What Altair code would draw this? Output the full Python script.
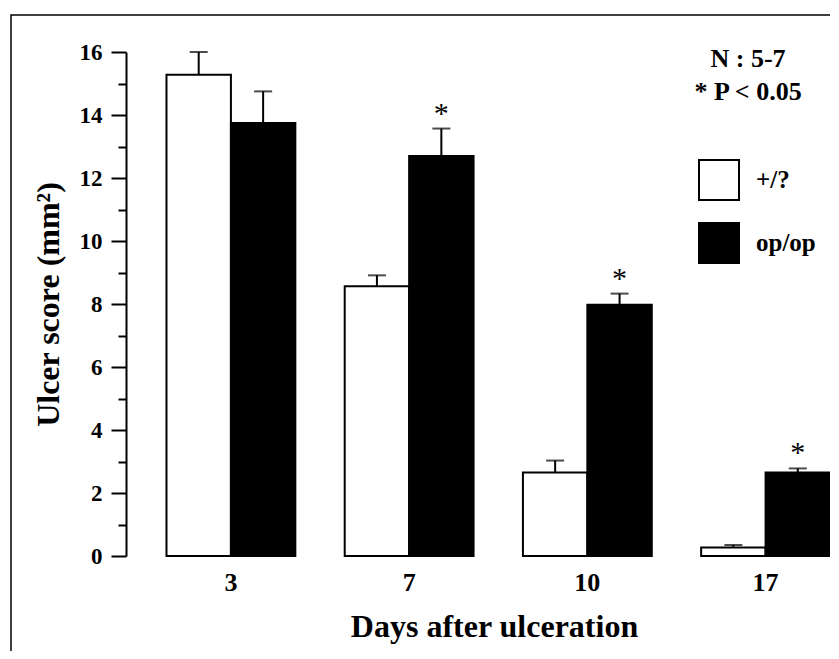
import altair as alt
import pandas as pd

days = ["3", "7", "10", "17"]
groups = ["+/?", "op/op"]
wt_mean = [15.28, 8.56, 2.65, 0.27]
wt_err = [0.72, 0.35, 0.38, 0.08]
op_mean = [13.75, 12.70, 7.98, 2.65]
op_err = [1.00, 0.87, 0.35, 0.13]
op_sig = [False, True, True, True]
notes = ["N : 5-7", "* P < 0.05"]

rows = []
for i, d in enumerate(days):
    rows.append({"day": d, "group": groups[0], "mean": wt_mean[i], "err": wt_err[i], "sig": False})
    rows.append({"day": d, "group": groups[1], "mean": op_mean[i], "err": op_err[i], "sig": op_sig[i]})
df = pd.DataFrame(rows)
df["top"] = df["mean"] + df["err"]

FONT = "Liberation Serif"
W, H = 704, 504

x_enc = alt.X(
    "day:N", sort=days, title="Days after ulceration",
    scale=alt.Scale(paddingInner=0.277, paddingOuter=0.1136, align=1),
    axis=alt.Axis(domain=False, ticks=False, grid=False, labelAngle=0, labelFontSize=26,
                  labelFont=FONT, labelFontWeight="bold", labelColor="black",
                  labelPadding=13, titleFontSize=32, titleFont=FONT,
                  titleFontWeight="bold", titleColor="black", titlePadding=16,
                  titleX=368),
)
xo_enc = alt.XOffset("group:N", sort=groups, scale=alt.Scale(paddingInner=0, paddingOuter=0))
y_scale = alt.Scale(domain=[0, 16], nice=False, zero=True)
y_axis = alt.Axis(values=list(range(17)),
                  labelExpr="datum.value % 2 === 0 ? datum.label : ''",
                  tickSize={"condition": {"test": "datum.value % 2 === 0", "value": 15}, "value": 8},
                  tickWidth=2, tickColor="black", domainWidth=2, domainColor="black",
                  labelFontSize=23, labelFont=FONT, labelFontWeight="bold",
                  labelColor="black", labelPadding=9, grid=False,
                  titleFontSize=32, titleFont=FONT, titleFontWeight="bold",
                  titleColor="black", titlePadding=14)
Y_TITLE = "Ulcer score (mm²)"

base = alt.Chart(df)

bars = base.mark_bar(stroke="black", strokeWidth=2).encode(
    x=x_enc,
    xOffset=xo_enc,
    y=alt.Y("mean:Q", scale=y_scale, title=Y_TITLE, axis=y_axis),
    fill=alt.Fill("group:N", sort=groups,
                  scale=alt.Scale(domain=groups, range=["white", "black"]),
                  legend=alt.Legend(title=None, orient="none", legendX=572, legendY=107,
                                    symbolType="square", symbolSize=1600,
                                    symbolStrokeColor="black", symbolStrokeWidth=2,
                                    labelFont=FONT, labelFontSize=25, labelFontWeight="bold",
                                    labelColor="black", labelOffset=16, rowPadding=15,
                                    padding=0)),
)

y_top = alt.Y("top:Q", scale=y_scale, title=Y_TITLE, axis=y_axis)

rules = base.mark_rule(color="black", strokeWidth=2).encode(
    x=x_enc, xOffset=xo_enc,
    y=alt.Y("mean:Q", scale=y_scale, title=Y_TITLE, axis=y_axis), y2="top:Q"
)
caps = base.mark_tick(color="black", thickness=2, size=18, orient="horizontal").encode(
    x=x_enc, xOffset=xo_enc, y=y_top
)
stars = base.transform_filter("datum.sig").mark_text(
    text="*", font=FONT, fontSize=30, color="black", dy=-6, baseline="alphabetic"
).encode(x=x_enc, xOffset=xo_enc, y=y_top)

frame = alt.Chart(pd.DataFrame({"k": [0]})).mark_rect(
    fillOpacity=0, stroke="black", strokeWidth=1.5
).encode(x=alt.value(-115), x2=alt.value(W + 100), y=alt.value(-37), y2=alt.value(H + 200))

note_layers = []
for txt, ypix in zip(notes, [7, 40]):
    note_layers.append(
        alt.Chart(pd.DataFrame({"t": [txt]})).mark_text(
            font=FONT, fontSize=26, fontWeight="bold", color="black",
            align="center", baseline="middle"
        ).encode(text="t:N", x=alt.value(622), y=alt.value(ypix))
    )

chart = alt.layer(frame, bars, rules, caps, stars, *note_layers).properties(
    width=W, height=H,
    padding={"left": 118, "top": 44, "right": 0, "bottom": 95},
    autosize=alt.AutoSizeParams(type="none"),
    background="white",
).configure_view(stroke=None).configure_axis(grid=False)

chart.save("out.html", embed_options={"renderer": "svg", "actions": False})
